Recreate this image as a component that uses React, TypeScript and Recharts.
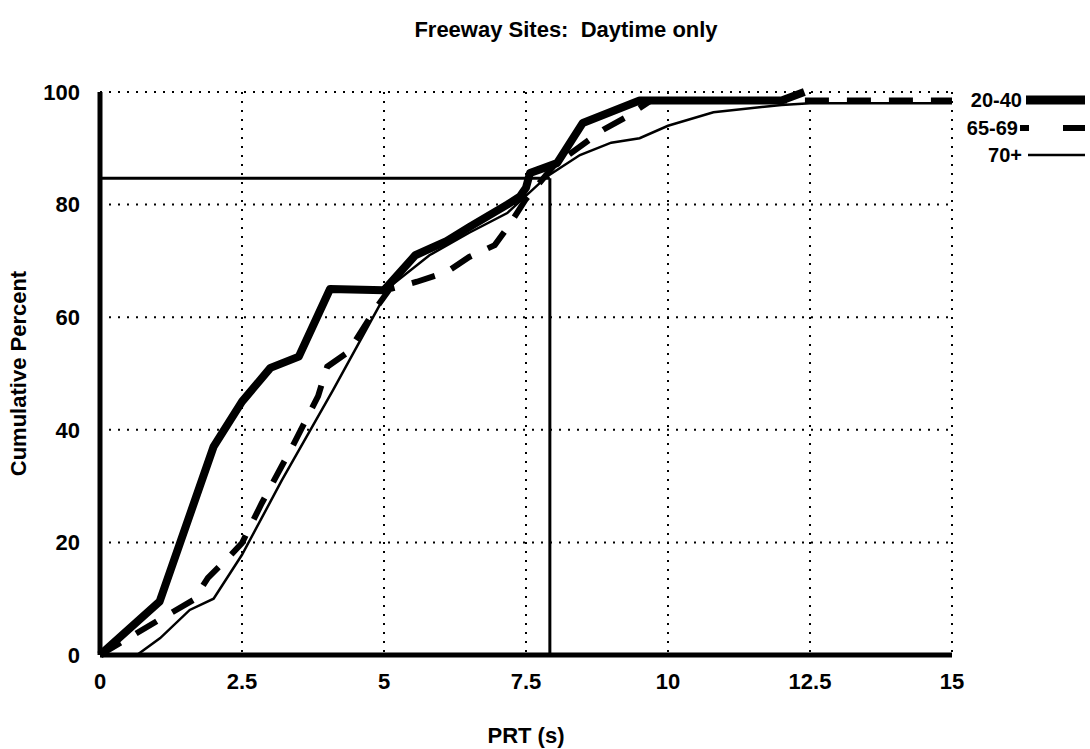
import React from 'react';
import { LineChart, Line, XAxis, YAxis, CartesianGrid, ReferenceLine } from 'recharts';

// PRT (s) / cumulative percent
const group2040X = [0, 1.05, 2.0, 2.5, 3.0, 3.5, 4.05, 5.0, 5.55, 6.1, 6.5, 7.17, 7.39, 7.5, 7.57, 7.87, 8.05, 8.5, 9.5, 12.0, 12.4];
const group2040Y = [0, 9.5, 37, 45, 51, 53, 65, 64.8, 71, 73.5, 76, 80, 81.4, 83, 85.6, 86.7, 87.4, 94.5, 98.5, 98.5, 100];

const group6569X = [0, 1.0, 1.65, 1.9, 2.25, 2.5, 2.85, 3.4, 3.84, 4.0, 4.37, 4.87, 5.1, 5.58, 6.1, 6.5, 6.95, 7.18, 7.5, 8.0, 8.86, 9.24, 9.7, 15];
const group6569Y = [0, 6, 9.8, 13.7, 17.2, 19.9, 27, 37.3, 46, 51.2, 53.8, 61.8, 65, 66.3, 68, 70.7, 72.8, 76, 81, 87, 93.3, 95.4, 98.5, 98.5];

const group70X = [0.65, 1.06, 1.58, 2.0, 2.5, 3.2, 4.1, 5.1, 5.8, 6.5, 7.17, 7.87, 8.45, 9.0, 9.5, 10.0, 10.8, 12.0, 12.5, 15];
const group70Y = [0, 3, 8, 10, 17.8, 31, 47, 65.4, 71, 75, 78.5, 85, 88.8, 91, 91.8, 94, 96.4, 97.7, 98, 98];

const xTicks = [0, 2.5, 5, 7.5, 10, 12.5, 15];
const yTicks = [0, 20, 40, 60, 80, 100];

// 85th percentile marker
const p85Time = 7.92;
const p85Pct = 84.7;

const zip = (xs: number[], ys: number[]) => xs.map((x, i) => ({ x, y: ys[i] }));

const font = '"Liberation Sans", Arial, sans-serif';
const textStyle = { fill: '#000', fontSize: 22, fontWeight: 'bold', fontFamily: font } as React.CSSProperties;

const LegendBox = () => (
    <svg width={130} height={80} style={{ position: 'absolute', left: 960, top: 88, fontFamily: font }}>
        <text x={62} y={19} textAnchor="end" fontSize={20} fontWeight="bold">20-40</text>
        <line x1={66} y1={12} x2={125} y2={12} stroke="#000" strokeWidth={9} />
        <text x={58} y={47} textAnchor="end" fontSize={20} fontWeight="bold">65-69</text>
        <line x1={60} y1={40} x2={125} y2={40} stroke="#000" strokeWidth={6} strokeDasharray="9 34 22 0" />
        <text x={62} y={74} textAnchor="end" fontSize={20} fontWeight="bold">70+</text>
        <line x1={68} y1={67} x2={125} y2={67} stroke="#000" strokeWidth={2.5} />
    </svg>
);

export default function App() {
    return (
        <div style={{ position: 'absolute', left: 0, top: 0, width: 1090, height: 749, background: '#fff' }}>
            <div style={{ position: 'absolute', left: 366, width: 400, top: 17, textAlign: 'center', fontFamily: font, fontSize: 22, fontWeight: 'bold' }}>
                Freeway Sites:&nbsp; Daytime only
            </div>
            <LineChart width={1090} height={749} margin={{ top: 92, right: 138, left: 0, bottom: 0 }}>
                <CartesianGrid stroke="#000" strokeWidth={2} strokeDasharray="2 7" />
                <XAxis
                    type="number"
                    dataKey="x"
                    domain={[0, 15]}
                    ticks={xTicks}
                    height={94}
                    axisLine={{ stroke: '#000', strokeWidth: 5 }}
                    tickLine={false}
                    tickMargin={12}
                    tick={textStyle}
                    label={{ value: 'PRT (s)', position: 'insideBottom', offset: 6, style: textStyle }}
                />
                <YAxis
                    type="number"
                    domain={[0, 100]}
                    ticks={yTicks}
                    width={100}
                    axisLine={{ stroke: '#000', strokeWidth: 5 }}
                    tickLine={false}
                    tickMargin={14}
                    tick={textStyle}
                    label={{ value: 'Cumulative Percent', angle: -90, position: 'insideLeft', offset: 18, style: { ...textStyle, textAnchor: 'middle' } }}
                />
                <ReferenceLine segment={[{ x: 0, y: p85Pct }, { x: p85Time, y: p85Pct }]} stroke="#000" strokeWidth={3} />
                <ReferenceLine segment={[{ x: p85Time, y: 0 }, { x: p85Time, y: p85Pct }]} stroke="#000" strokeWidth={3} />
                <Line data={zip(group70X, group70Y)} dataKey="y" name="70+" stroke="#000" strokeWidth={2.5} dot={false} isAnimationActive={false} />
                <Line data={zip(group6569X, group6569Y)} dataKey="y" name="65-69" stroke="#000" strokeWidth={6} strokeDasharray="24 18" dot={false} isAnimationActive={false} />
                <Line data={zip(group2040X, group2040Y)} dataKey="y" name="20-40" stroke="#000" strokeWidth={8} strokeLinejoin="round" dot={false} isAnimationActive={false} />
            </LineChart>
            <LegendBox />
        </div>
    );
}
